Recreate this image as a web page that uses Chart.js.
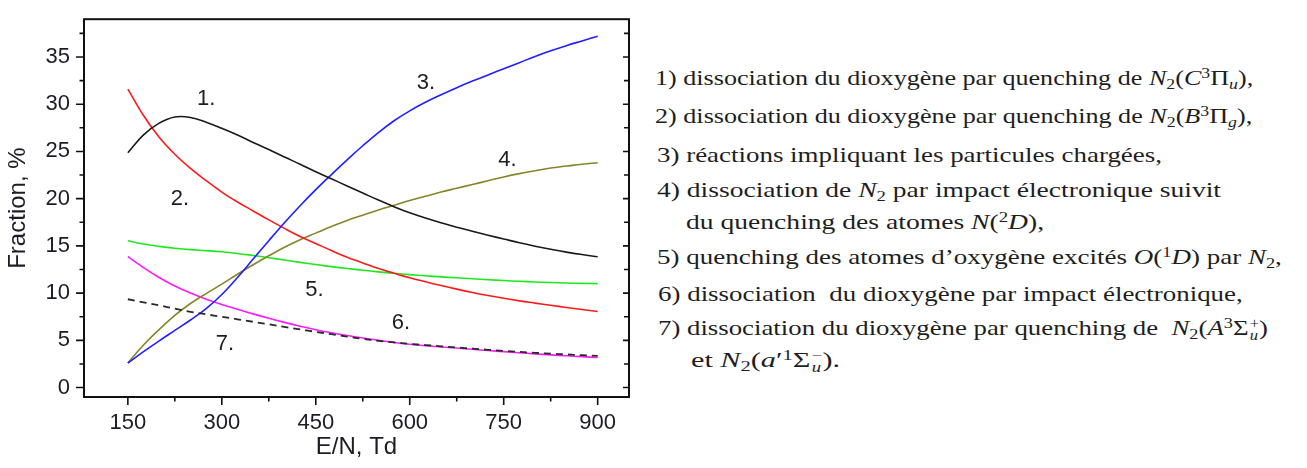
<!DOCTYPE html>
<html>
<head>
<meta charset="utf-8">
<script src="https://cdn.jsdelivr.net/npm/chart.js@4.4.1/dist/chart.umd.min.js"></script>
<style>
  html, body { margin: 0; padding: 0; background: #fff; }
  body { width: 1307px; height: 468px; position: relative; overflow: hidden; }
  #plot { position: absolute; left: 0; top: 0; width: 640px; height: 468px; }
  #notes { position: absolute; left: 0; top: 0; font-family: "Liberation Serif", "Times New Roman", serif; font-size: 22px; color: #1e1e1e; }
  #notes .ln { position: absolute; white-space: nowrap; line-height: 26px; transform-origin: 0 50%; }
  #notes sub, #notes sup { font-size: 0.68em; line-height: 0; position: relative; vertical-align: baseline; }
  #notes sub { top: 0.28em; }
  #notes sup { top: -0.45em; }
  #notes .stk { display: inline-flex; flex-direction: column; font-size: 0.62em; line-height: 0.95; vertical-align: 0.55em; margin-left: 1px; }
</style>
</head>
<body>
<div id="plot"><canvas id="fraction-chart"></canvas></div>
<div id="notes">
  <div class="ln" style="left:655px; top:65px" data-w="598">1) dissociation du dioxygène par quenching de <i>N</i><sub>2</sub>(<i>C</i><sup>3</sup>Π<sub><i>u</i></sub>),</div>
  <div class="ln" style="left:655px; top:103px" data-w="597">2) dissociation du dioxygène par quenching de <i>N</i><sub>2</sub>(<i>B</i><sup>3</sup>Π<sub><i>g</i></sub>),</div>
  <div class="ln" style="left:657px; top:142px" data-w="505">3) réactions impliquant les particules chargées,</div>
  <div class="ln" style="left:657px; top:177px" data-w="564">4) dissociation de <i>N</i><sub>2</sub> par impact électronique suivit</div>
  <div class="ln" style="left:686px; top:209px" data-w="358">du quenching des atomes <i>N</i>(<sup>2</sup><i>D</i>),</div>
  <div class="ln" style="left:657px; top:244px" data-w="625">5) quenching des atomes d’oxygène excités <i>O</i>(<sup>1</sup><i>D</i>) par <i>N</i><sub>2</sub>,</div>
  <div class="ln" style="left:658px; top:281px" data-w="585">6) dissociation&nbsp; du dioxygène par impact électronique,</div>
  <div class="ln" style="left:658px; top:315px" data-w="610">7) dissociation du dioxygène par quenching de&nbsp; <i>N</i><sub>2</sub>(<i>A</i><sup>3</sup>Σ<span class="stk"><span>+</span><i>u</i></span>)</div>
  <div class="ln" style="left:691px; top:347px" data-w="149">et <i>N</i><sub>2</sub>(<i>a</i>′<sup>1</sup>Σ<span class="stk"><span>−</span><i>u</i></span>).</div>
</div>
<script>
const fieldValues = [150, 175, 200, 225, 250, 275, 300, 325, 350, 375, 400, 425, 450, 475, 500, 525,
  550, 575, 600, 625, 650, 675, 700, 725, 750, 775, 800, 825, 850, 875, 900];

// fractions, %
const quenchC3 = [24.85, 26.75, 28.0, 28.65, 28.6, 28.1, 27.45, 26.75, 25.95, 25.2, 24.4, 23.65, 22.85, 22.1, 21.35, 20.6,
  19.85, 19.15, 18.5, 17.95, 17.45, 16.98, 16.55, 16.13, 15.73, 15.33, 14.97, 14.64, 14.34, 14.08, 13.85];
const quenchB3 = [31.6, 28.8, 26.5, 24.7, 23.2, 21.9, 20.7, 19.65, 18.7, 17.75, 16.85, 16.0, 15.25, 14.5, 13.8, 13.2,
  12.6, 12.1, 11.62, 11.2, 10.8, 10.42, 10.07, 9.75, 9.45, 9.18, 8.94, 8.71, 8.48, 8.26, 8.05];
const chargedReactions = [2.6, 3.8, 4.95, 6.05, 7.15, 8.35, 9.85, 11.65, 13.6, 15.55, 17.45, 19.25, 20.95, 22.55, 24.1, 25.6,
  27.0, 28.25, 29.3, 30.2, 31.0, 31.75, 32.45, 33.1, 33.75, 34.4, 35.05, 35.65, 36.2, 36.7, 37.2];
const n2dQuench = [2.6, 4.5, 6.15, 7.65, 8.9, 9.95, 10.95, 12.0, 13.0, 13.95, 14.85, 15.65, 16.35, 17.05, 17.7, 18.25,
  18.8, 19.3, 19.8, 20.25, 20.7, 21.1, 21.5, 21.9, 22.3, 22.65, 22.95, 23.25, 23.45, 23.65, 23.8];
const o1dQuench = [15.55, 15.2, 14.95, 14.75, 14.6, 14.5, 14.38, 14.2, 13.98, 13.75, 13.5, 13.25, 13.02, 12.8, 12.6, 12.42,
  12.25, 12.1, 11.96, 11.83, 11.72, 11.62, 11.52, 11.42, 11.33, 11.25, 11.18, 11.12, 11.07, 11.03, 11.0];
const electronDissoc = [13.86, 12.7, 11.65, 10.75, 10.0, 9.35, 8.8, 8.3, 7.8, 7.33, 6.9, 6.5, 6.12, 5.8, 5.52, 5.25,
  5.0, 4.78, 4.58, 4.42, 4.3, 4.18, 4.05, 3.92, 3.8, 3.68, 3.57, 3.46, 3.36, 3.27, 3.18];
const quenchA3 = [9.35, 9.02, 8.7, 8.35, 8.02, 7.75, 7.5, 7.23, 6.96, 6.7, 6.42, 6.15, 5.9, 5.65, 5.4, 5.15,
  4.95, 4.78, 4.62, 4.5, 4.37, 4.24, 4.12, 4.0, 3.88, 3.78, 3.68, 3.59, 3.51, 3.43, 3.36];

const xTicks = [150, 300, 450, 600, 750, 900];
const yTicks = [0, 5, 10, 15, 20, 25, 30, 35];

// curve numbers placed inside the plot
const curveTags = ["1.", "2.", "3.", "4.", "5.", "6.", "7."];
const tagX = [275, 233, 626, 756, 448, 586, 305];
const tagY = [30.6, 20.0, 32.2, 24.1, 10.3, 6.8, 4.6];

const ink = "#1c1c26";

function pts(values) {
  return values.map((v, i) => ({ x: fieldValues[i], y: v }));
}

function series(data, color, extra) {
  return Object.assign({
    data: pts(data),
    borderColor: color,
    borderWidth: 1.6,
    pointRadius: 0,
    fill: false,
    tension: 0.4,
  }, extra || {});
}

// frame with outward ticks on left/bottom, inward ticks on the right
const framePlugin = {
  id: "frame",
  afterDraw(chart) {
    const { ctx, chartArea: a, scales } = chart;
    const xs = scales.x;
    const ys = scales.y;
    ctx.save();
    ctx.strokeStyle = "#111";
    ctx.lineWidth = 2;
    ctx.strokeRect(a.left, a.top, a.right - a.left, a.bottom - a.top);

    ctx.lineWidth = 1.6;
    ctx.beginPath();
    for (let v = 0; v <= 37.5; v += 2.5) {
      const y = ys.getPixelForValue(v);
      const major = v % 5 === 0;
      ctx.moveTo(a.left, y);
      ctx.lineTo(a.left - (major ? 8 : 4.5), y);
      ctx.moveTo(a.right, y);
      ctx.lineTo(a.right - (major ? 6 : 5), y);
    }
    for (let v = 150; v <= 900; v += 75) {
      const x = xs.getPixelForValue(v);
      const major = v % 150 === 0;
      ctx.moveTo(x, a.bottom);
      ctx.lineTo(x, a.bottom + (major ? 8 : 4.5));
    }
    ctx.stroke();

    ctx.fillStyle = ink;
    ctx.font = "22px 'Liberation Sans', Arial, sans-serif";
    ctx.textAlign = "center";
    ctx.textBaseline = "middle";
    curveTags.forEach((t, i) => {
      ctx.fillText(t, xs.getPixelForValue(tagX[i]), ys.getPixelForValue(tagY[i]));
    });
    ctx.restore();
  },
};

const tickFont = { family: "'Liberation Sans', Arial, sans-serif", size: 22 };
const titleFont = { family: "'Liberation Sans', Arial, sans-serif", size: 24 };

new Chart(document.getElementById("fraction-chart"), {
  type: "line",
  data: {
    datasets: [
      series(quenchA3, "#2a2a2a", { borderDash: [7, 5], borderWidth: 1.8, order: 0 }),
      series(quenchC3, "#1a1a1a", { order: 1 }),
      series(quenchB3, "#ff1a1a", { order: 2 }),
      series(chargedReactions, "#1f1fff", { order: 1 }),
      series(n2dQuench, "#85852a", { order: 3 }),
      series(o1dQuench, "#1ee81e", { order: 4 }),
      series(electronDissoc, "#ff1aff", { order: 5 }),
    ],
  },
  options: {
    responsive: true,
    maintainAspectRatio: false,
    animation: false,
    layout: { padding: { top: 7, right: 11, left: 0, bottom: 0 } },
    plugins: { legend: { display: false }, tooltip: { enabled: false } },
    scales: {
      x: {
        type: "linear",
        min: 80,
        max: 950,
        afterBuildTicks: (s) => { s.ticks = xTicks.map((v) => ({ value: v })); },
        afterFit: (s) => { s.height = 71; },
        grid: { display: false },
        border: { display: false },
        ticks: { font: tickFont, color: ink, padding: 5, maxRotation: 0 },
        title: { display: true, text: "E/N, Td", font: titleFont, color: ink, padding: { top: 0, bottom: 6 } },
      },
      y: {
        type: "linear",
        min: -1,
        max: 39,
        afterBuildTicks: (s) => { s.ticks = yTicks.map((v) => ({ value: v })); },
        afterFit: (s) => { s.width = 84; },
        grid: { display: false },
        border: { display: false },
        ticks: { font: tickFont, color: ink, padding: 6 },
        title: { display: true, text: "Fraction, %", font: titleFont, color: ink, padding: { top: 4, bottom: 0 } },
      },
    },
  },
  plugins: [framePlugin],
});

// stretch each note line to the width it has in the figure
document.querySelectorAll("#notes .ln").forEach((el) => {
  const w = el.getBoundingClientRect().width;
  const target = Number(el.dataset.w);
  el.style.transform = `scaleX(${(target / w).toFixed(3)})`;
});
</script>
</body>
</html>
